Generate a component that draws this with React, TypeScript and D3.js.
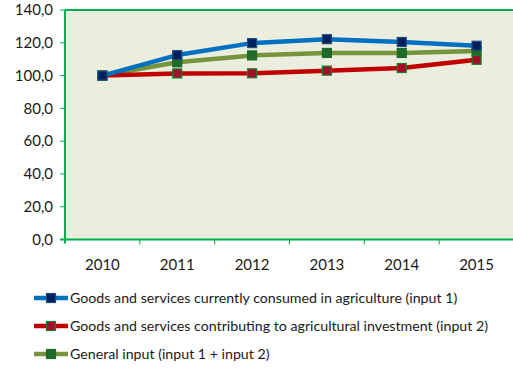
import React from "react";
import * as d3 from "d3";

const years = ["2010", "2011", "2012", "2013", "2014", "2015"];
const input1 = [100, 112.5, 119.8, 122.2, 120.5, 118.2];
const input2 = [100, 101.3, 101.4, 103.0, 104.6, 109.6];
const general = [100, 108.1, 112.3, 113.8, 113.8, 115.0];
const yTicks = [0, 20, 40, 60, 80, 100, 120, 140];
const seriesNames = [
  "Goods and services currently consumed in agriculture (input 1)",
  "Goods and services contributing to agricultural investment (input 2)",
  "General input (input 1 + input 2)",
];

const styles = [
  { line: "#0070C0", fill: "#002060", stroke: "#1F4E79" },
  { line: "#C00000", fill: "#A0102A", stroke: "#1E7B2A" },
  { line: "#77933C", fill: "#1E6B2A", stroke: "#1E6B2A" },
];

export default function App() {
  const W = 513, H = 370;
  const left = 65, right = 514, top = 10, bottom = 239.5;
  const x = d3.scaleBand().domain(years).range([left, right]);
  const y = d3.scaleLinear().domain([0, 140]).range([bottom, top]);
  const data = [input1, input2, general];
  const axisColor = "#00B050";
  const font = "Lato, 'Open Sans', sans-serif";
  const line = d3
    .line<number>()
    .x((_, i) => (x(years[i]) as number) + x.bandwidth() / 2)
    .y((d) => y(d));
  const order = [2, 1, 0];
  return (
    <svg
      width={W}
      height={H}
      style={{ position: "absolute", left: 0, top: 0, background: "#fff" }}
      fontFamily={font}
    >
      <rect x={left} y={top} width={right - left} height={bottom - top} fill="#EBEEDF" />
      {order.map((si) => (
        <path
          key={"l" + si}
          d={line(data[si]) || ""}
          fill="none"
          stroke={styles[si].line}
          strokeWidth={4.5}
          strokeLinejoin="round"
        />
      ))}
      {order.map((si) =>
        data[si].map((v, i) => (
          <rect
            key={"m" + si + "-" + i}
            x={(x(years[i]) as number) + x.bandwidth() / 2 - 4.5}
            y={y(v) - 4.5}
            width={9}
            height={9}
            fill={styles[si].fill}
            stroke={styles[si].stroke}
            strokeWidth={1.2}
          />
        ))
      )}
      <line x1={left} x2={right} y1={top} y2={top} stroke={axisColor} strokeWidth={2} />
      <line x1={left} x2={left} y1={top} y2={bottom + 4} stroke={axisColor} strokeWidth={2} />
      <line x1={left - 5} x2={right} y1={bottom} y2={bottom} stroke={axisColor} strokeWidth={2} />
      {yTicks.map((t) => (
        <g key={"yt" + t}>
          <line x1={left - 5} x2={left} y1={y(t)} y2={y(t)} stroke={axisColor} strokeWidth={1} />
          <text x={53} y={y(t)} dy="0.35em" textAnchor="end" fontSize={15} fill="#1a1a1a">
            {t.toFixed(1).replace(".", ",")}
          </text>
        </g>
      ))}
      {years.map((yr, i) => (
        <g key={"xt" + yr}>
          {i > 0 && (
            <line
              x1={x(yr) as number}
              x2={x(yr) as number}
              y1={bottom}
              y2={bottom + 5}
              stroke={axisColor}
              strokeWidth={1}
            />
          )}
          <text
            x={(x(yr) as number) + x.bandwidth() / 2}
            y={270}
            textAnchor="middle"
            fontSize={15}
            fill="#1a1a1a"
          >
            {yr}
          </text>
        </g>
      ))}
      {seriesNames.map((name, si) => {
        const ly = 298 + si * 28;
        return (
          <g key={"lg" + si}>
            <line x1={34} x2={68} y1={ly} y2={ly} stroke={styles[si].line} strokeWidth={4.5} />
            <rect
              x={46.5}
              y={ly - 4.5}
              width={9}
              height={9}
              fill={styles[si].fill}
              stroke={styles[si].stroke}
              strokeWidth={1.2}
            />
            <text x={70} y={ly} dy="0.35em" fontSize={14.2} fill="#1a1a1a">
              {name}
            </text>
          </g>
        );
      })}
    </svg>
  );
}
